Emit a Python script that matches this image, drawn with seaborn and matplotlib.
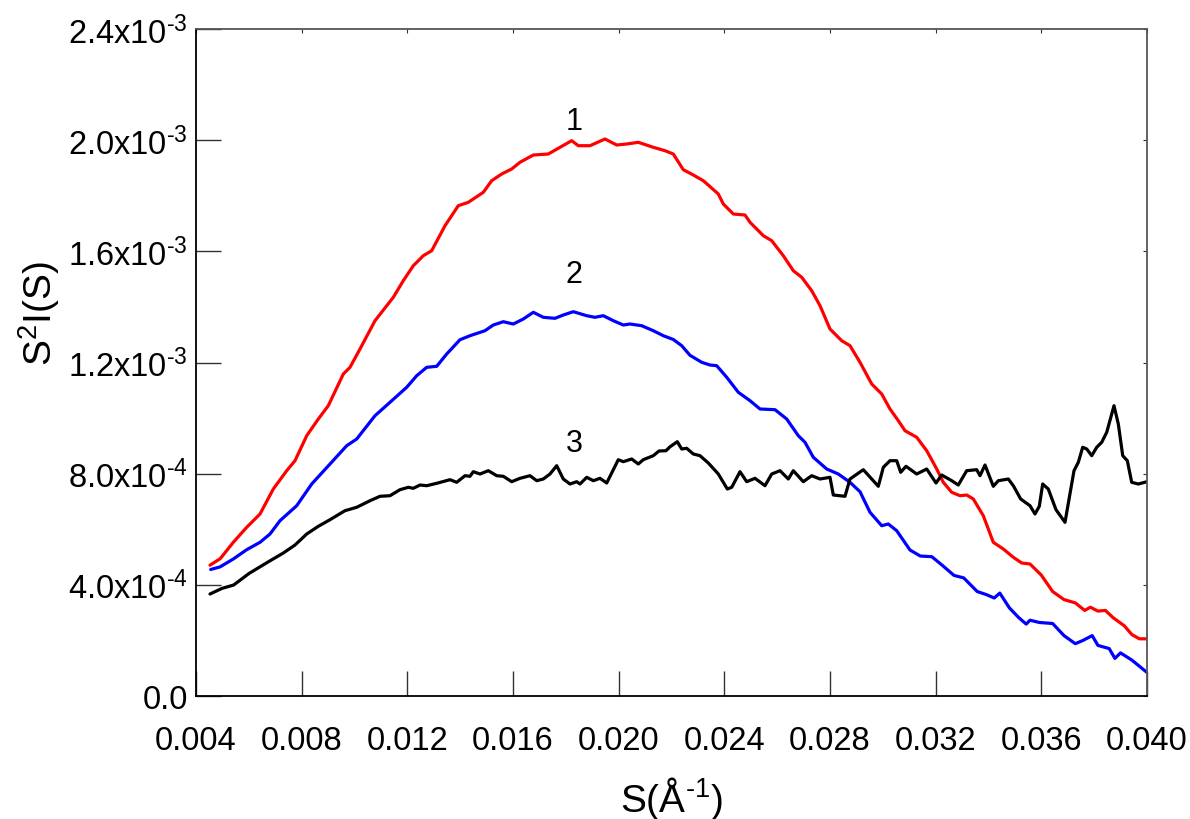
import numpy as np
import pandas as pd
import matplotlib
matplotlib.use("Agg")
import matplotlib.pyplot as plt
from matplotlib.ticker import FuncFormatter, FixedLocator
import seaborn as sns

# Scattering vector S (in 1e-3 Å^-1) and S^2*I(S) (in 1e-3) for the three samples
s1 = [4.530, 4.920, 5.412, 5.919, 6.423, 6.926, 7.433, 7.748, 8.191, 8.630, 9.008, 9.576,
      9.830, 10.208, 10.776, 11.469, 11.847, 12.226, 12.604, 12.922, 13.426, 13.929, 14.308,
      14.876, 15.194, 15.572, 15.951, 16.265, 16.769, 17.336, 17.779, 18.222, 18.472, 18.915,
      19.483, 19.926, 20.304, 20.743, 21.311, 21.754, 22.068, 22.447, 22.825, 23.204, 23.772,
      23.961, 24.340, 24.782, 24.972, 25.475, 25.793, 26.232, 26.611, 26.929, 27.307, 27.622,
      28.000, 28.443, 28.757, 29.136, 29.579, 29.957, 30.271, 30.586, 30.839, 31.282, 31.661,
      32.040, 32.289, 32.607, 32.921, 33.175, 33.425, 33.803, 34.182, 34.561, 34.939, 35.257,
      35.571, 35.999, 36.427, 36.858, 37.286, 37.642, 37.858, 38.142, 38.425, 38.713, 39.141,
      39.428, 39.712, 40.000]
i1 = [0.4707, 0.4944, 0.5530, 0.6070, 0.6549, 0.7448, 0.8107, 0.8467, 0.9366, 0.9967, 1.0446,
      1.1586, 1.1827, 1.2486, 1.3504, 1.4346, 1.4943, 1.5483, 1.5843, 1.6023, 1.6922, 1.7642,
      1.7764, 1.8124, 1.8542, 1.8783, 1.8963, 1.9204, 1.9466, 1.9502, 1.9743, 1.9981, 1.9801,
      1.9801, 2.0042, 1.9826, 1.9862, 1.9923, 1.9743, 1.9621, 1.9502, 1.8937, 1.8747, 1.8542,
      1.8063, 1.7703, 1.7343, 1.7307, 1.7045, 1.6563, 1.6383, 1.5843, 1.5303, 1.5066, 1.4584,
      1.4044, 1.3205, 1.2784, 1.2605, 1.2007, 1.1226, 1.0867, 1.0327, 0.9906, 0.9546, 0.9309,
      0.8826, 0.8168, 0.7689, 0.7330, 0.7207, 0.7232, 0.7088, 0.6488, 0.5530, 0.5289, 0.4991,
      0.4786, 0.4750, 0.4350, 0.3760, 0.3469, 0.3350, 0.3080, 0.3195, 0.3055, 0.3080, 0.2821,
      0.2526, 0.2209, 0.2058, 0.2058]

s2 = [4.556, 4.909, 5.412, 5.919, 6.423, 6.801, 7.180, 7.812, 8.380, 9.073, 9.705, 10.083,
      10.776, 11.344, 11.976, 12.355, 12.733, 13.112, 13.490, 13.994, 14.372, 14.940, 15.254,
      15.633, 16.011, 16.390, 16.769, 17.147, 17.590, 17.904, 18.283, 18.790, 19.104, 19.418,
      19.797, 20.175, 20.429, 20.872, 21.311, 21.690, 22.068, 22.386, 22.700, 23.143, 23.457,
      23.711, 24.090, 24.529, 24.972, 25.350, 25.918, 26.361, 26.800, 27.054, 27.368, 27.875,
      28.314, 28.757, 29.136, 29.514, 29.957, 30.207, 30.525, 31.028, 31.418, 31.854, 32.259,
      32.694, 33.062, 33.572, 33.928, 34.216, 34.428, 34.788, 35.144, 35.428, 35.571, 35.927,
      36.427, 36.858, 37.286, 37.570, 37.926, 38.142, 38.569, 38.785, 38.997, 39.428, 40.000]
i2 = [0.4552, 0.4645, 0.4930, 0.5264, 0.5530, 0.5829, 0.6308, 0.6847, 0.7628, 0.8348, 0.9006,
      0.9247, 1.0086, 1.0568, 1.1108, 1.1525, 1.1827, 1.1863, 1.2306, 1.2820, 1.2964, 1.3144,
      1.3349, 1.3468, 1.3385, 1.3565, 1.3806, 1.3626, 1.3590, 1.3709, 1.3828, 1.3684, 1.3626,
      1.3684, 1.3504, 1.3349, 1.3385, 1.3324, 1.3144, 1.2964, 1.2828, 1.2605, 1.2259, 1.2007,
      1.1910, 1.1885, 1.1468, 1.0928, 1.0626, 1.0327, 1.0302, 0.9967, 0.9366, 0.9129, 0.8589,
      0.8168, 0.7988, 0.7689, 0.7351, 0.6610, 0.6128, 0.6189, 0.5948, 0.5253, 0.5037, 0.5012,
      0.4696, 0.4339, 0.4250, 0.3760, 0.3645, 0.3526, 0.3703, 0.3174, 0.2821, 0.2587, 0.2727,
      0.2645, 0.2609, 0.2173, 0.1882, 0.1997, 0.2173, 0.1821, 0.1706, 0.1353, 0.1551, 0.1292,
      0.0846]

s3 = [4.530, 4.984, 5.427, 6.006, 6.726, 7.305, 7.748, 8.191, 8.630, 9.073, 9.640, 10.083,
      10.587, 10.965, 11.344, 11.722, 12.037, 12.226, 12.480, 12.733, 13.112, 13.615, 13.869,
      14.183, 14.372, 14.497, 14.751, 15.065, 15.383, 15.633, 15.951, 16.265, 16.644, 16.897,
      17.147, 17.401, 17.654, 17.904, 18.158, 18.412, 18.536, 18.790, 19.040, 19.293, 19.547,
      19.986, 20.175, 20.493, 20.743, 20.933, 21.311, 21.527, 21.792, 21.943, 22.220, 22.386,
      22.575, 22.825, 23.079, 23.393, 23.772, 24.113, 24.279, 24.593, 24.847, 25.161, 25.539,
      25.793, 26.107, 26.422, 26.611, 26.989, 27.307, 27.622, 28.000, 28.125, 28.568, 28.757,
      29.261, 29.829, 30.018, 30.271, 30.525, 30.676, 30.877, 31.282, 31.661, 32.013, 32.229,
      32.607, 32.857, 33.175, 33.553, 33.678, 33.868, 34.182, 34.371, 34.750, 34.939, 35.219,
      35.571, 35.760, 35.923, 36.051, 36.263, 36.555, 36.896, 37.237, 37.400, 37.566, 37.718,
      37.907, 38.096, 38.286, 38.475, 38.751, 38.914, 39.081, 39.255, 39.421, 39.671, 40.000]
i3 = [0.3670, 0.3872, 0.3994, 0.4408, 0.4822, 0.5145, 0.5433, 0.5829, 0.6106, 0.6344, 0.6668,
      0.6790, 0.7027, 0.7186, 0.7207, 0.7423, 0.7509, 0.7473, 0.7592, 0.7567, 0.7653, 0.7783,
      0.7689, 0.7927, 0.7905, 0.8071, 0.7988, 0.8107, 0.7927, 0.7905, 0.7711, 0.7833, 0.7927,
      0.7747, 0.7808, 0.7988, 0.8287, 0.7808, 0.7628, 0.7711, 0.7628, 0.7869, 0.7747, 0.7833,
      0.7664, 0.8503, 0.8431, 0.8528, 0.8348, 0.8503, 0.8647, 0.8816, 0.8826, 0.8967, 0.9150,
      0.8888, 0.8913, 0.8708, 0.8647, 0.8384, 0.7988, 0.7448, 0.7509, 0.8071, 0.7711, 0.7833,
      0.7567, 0.7988, 0.8107, 0.7808, 0.8107, 0.7711, 0.7927, 0.7808, 0.7869, 0.7232, 0.7186,
      0.7808, 0.8143, 0.7545, 0.8229, 0.8467, 0.8467, 0.8049, 0.8265, 0.7988, 0.8168, 0.7664,
      0.7952, 0.7747, 0.7592, 0.8107, 0.8143, 0.7927, 0.8312, 0.7545, 0.7747, 0.7808, 0.7567,
      0.7088, 0.6847, 0.6549, 0.6826, 0.7628, 0.7448, 0.6703, 0.6250, 0.8107, 0.8409, 0.8949,
      0.8888, 0.8647, 0.8949, 0.9129, 0.9488, 1.0446, 0.9787, 0.8647, 0.8467, 0.7689, 0.7628,
      0.7711]

curve_names = ["1", "2", "3"]
curve_colors = ["#ff0000", "#0000ff", "#000000"]
label_pos = [(18.31, 2.069), (18.31, 1.518), (18.31, 0.910)]

x_ticks = [0.004, 0.008, 0.012, 0.016, 0.020, 0.024, 0.028, 0.032, 0.036, 0.040]
y_ticks = [0.0, 4e-4, 8e-4, 1.2e-3, 1.6e-3, 2.0e-3, 2.4e-3]

frames = []
for name, s, v in zip(curve_names, [s1, s2, s3], [i1, i2, i3]):
    frames.append(pd.DataFrame({"S": np.array(s) * 1e-3,
                                "S2I": np.array(v) * 1e-3,
                                "curve": name}))
data = pd.concat(frames, ignore_index=True)

sns.set_style("white")
plt.rcParams["font.family"] = ["Liberation Sans", "DejaVu Sans"]
plt.rcParams["mathtext.fontset"] = "custom"
plt.rcParams["mathtext.rm"] = "Liberation Sans"
plt.rcParams["mathtext.it"] = "Liberation Sans:italic"
plt.rcParams["mathtext.bf"] = "Liberation Sans:bold"
plt.rcParams["text.color"] = "black"
plt.rcParams["axes.labelcolor"] = "black"
plt.rcParams["xtick.color"] = "black"
plt.rcParams["ytick.color"] = "black"

HYPHEN = "\u2010"

fig = plt.figure(figsize=(11.9, 8.2), dpi=100)
ax = fig.add_axes([196 / 1190, 123 / 820, 951 / 1190, 667 / 820])

for name, color in zip(curve_names, curve_colors):
    sns.lineplot(data=data[data["curve"] == name], x="S", y="S2I", color=color,
                 linewidth=2.3, sort=False, estimator=None, ax=ax, legend=False)

for name, (lx, ly) in zip(curve_names, label_pos):
    ax.text(lx * 1e-3, ly * 1e-3, name, fontsize=22, ha="center", va="center")

ax.set_xlim(0.004, 0.040)
ax.set_ylim(0.0, 2.4e-3)
ax.xaxis.set_major_locator(FixedLocator(x_ticks))
ax.yaxis.set_major_locator(FixedLocator(y_ticks))


def sci_label(v, pos):
    if abs(v) < 1e-12:
        return "0.0"
    exp = int(np.floor(np.log10(abs(v)) + 1e-9))
    mant = v / 10 ** exp
    return r"%.1fx10$^{%s%d}$" % (mant, HYPHEN if exp < 0 else "", abs(exp))


ax.yaxis.set_major_formatter(FuncFormatter(sci_label))
ax.xaxis.set_major_formatter(FuncFormatter(lambda v, p: "%.3f" % v))

ax.tick_params(axis="both", which="major", direction="in", length=18, width=1.0,
               color="#333333", labelsize=23.5, bottom=True, left=True,
               top=False, right=False)
ax.tick_params(axis="y", pad=6)
ax.tick_params(axis="x", pad=21)

# short inward ticks mirrored on the top and right edges
top = ax.secondary_xaxis("top")
top.xaxis.set_major_locator(FixedLocator(x_ticks))
top.tick_params(direction="in", length=3, top=True, labeltop=False, color="#333333")
right = ax.secondary_yaxis("right")
right.yaxis.set_major_locator(FixedLocator(y_ticks))
right.tick_params(direction="in", length=3, right=True, labelright=False, color="#333333")
for sec in (top, right):
    for sp in sec.spines.values():
        sp.set_visible(False)

for side, sp in ax.spines.items():
    sp.set_visible(True)
    sp.set_linewidth(1.3)
    sp.set_color("#000000" if side in ("left", "bottom") else "#555555")

ax.set_xlabel(r"S($\mathrm{\AA}^{%s1}$)" % HYPHEN, fontsize=28, labelpad=13)
ax.set_ylabel(r"S$^{2}$I(S)", fontsize=28)
ax.yaxis.set_label_coords(-0.141, 0.575)

fig.savefig("out.png", dpi=100)
